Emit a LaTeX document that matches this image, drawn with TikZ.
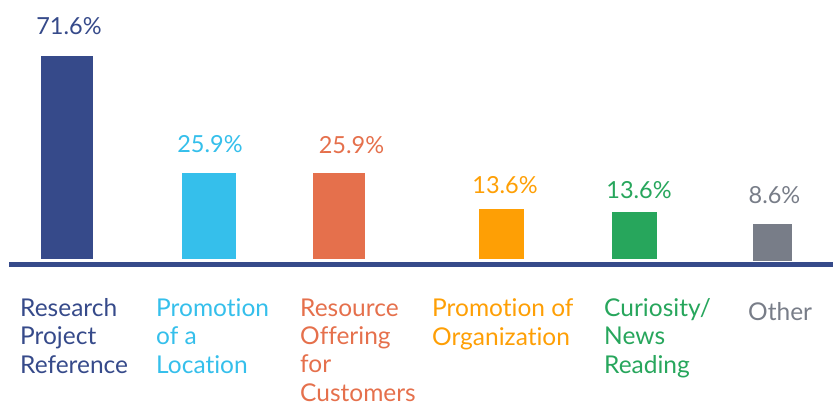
\documentclass[tikz,border=0pt]{standalone}
\usepackage{fontspec}
\setmainfont{Lato}[Ligatures=NoCommon]
\definecolor{cA}{HTML}{364A8A}
\definecolor{cB}{HTML}{35BFEB}
\definecolor{cC}{HTML}{E5704C}
\definecolor{cD}{HTML}{FE9F05}
\definecolor{cE}{HTML}{27A65C}
\definecolor{cF}{HTML}{787D88}
\tikzset{
  bar/.style={draw=none, inner sep=0pt, outer sep=0pt, anchor=north west},
  val/.style={inner sep=0pt, anchor=base, font=\fontsize{23.5}{28}\selectfont},
  lab/.style={inner sep=0pt, anchor=base west, align=left, font=\fontsize{24.5}{28.3}\selectfont},
}
\begin{document}
\begin{tikzpicture}[x=1pt,y=-1pt]
\useasboundingbox (0,0) rectangle (837,405);
% bars
\node[bar, fill=cA, minimum width=52pt, minimum height=203pt] (b1) at (41,56) {};
\node[bar, fill=cB, minimum width=54pt, minimum height=86pt] (b2) at (182,173) {};
\node[bar, fill=cC, minimum width=52pt, minimum height=86pt] (b3) at (313,173) {};
\node[bar, fill=cD, minimum width=45pt, minimum height=50pt] (b4) at (479,209) {};
\node[bar, fill=cE, minimum width=45pt, minimum height=47pt] (b5) at (612,212) {};
\node[bar, fill=cF, minimum width=39pt, minimum height=37pt] (b6) at (753,224) {};
% axis
\coordinate (axL) at (9,264.5);
\coordinate (axR) at (833,264.5);
\draw[cA, line width=5pt] (axL) -- (axR);
% values
\node[val, text=cA] (v1) at (69,34) {71.6\%};
\node[val, text=cB] (v2) at (210,152) {25.9\%};
\node[val, text=cC] (v3) at (351.5,153) {25.9\%};
\node[val, text=cD] (v4) at (505,193) {13.6\%};
\node[val, text=cE] (v5) at (639,198) {13.6\%};
\node[val, text=cF] (v6) at (774.5,203) {8.6\%};
% category labels (anchor at baseline of last line)
\node[lab, text=cA] (l1) at (20,373) {Research\\Project\\Reference};
\node[lab, text=cB] (l2) at (156,373) {Promotion\\of a\\Location};
\node[lab, text=cC] (l3) at (300,401) {Resource\\Offering\\for\\Customers};
\node[lab, text=cD] (l4) at (432,345) {Promotion of\\Organization};
\node[lab, text=cE] (l5) at (604,373) {Curiosity/\\News\\Reading};
\node[lab, text=cF] (l6) at (748,320) {Other};
\end{tikzpicture}
\end{document}
